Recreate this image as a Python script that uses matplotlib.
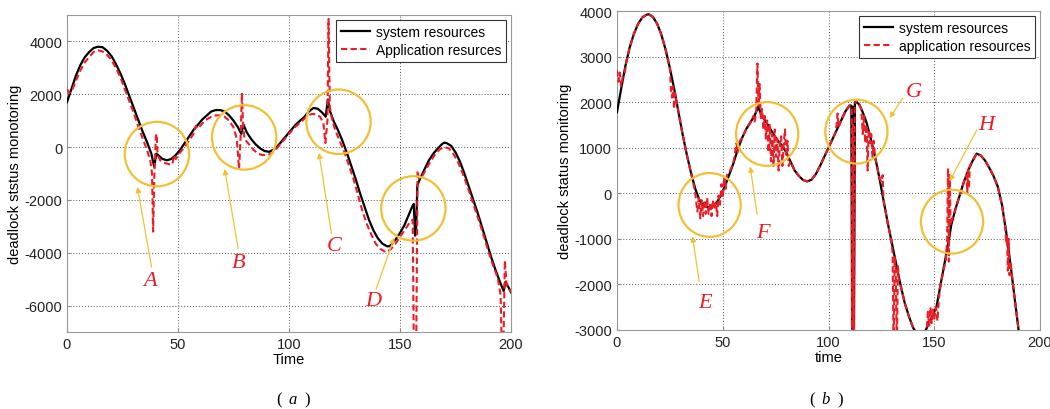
import matplotlib
matplotlib.use('Agg')
import matplotlib.pyplot as plt
from matplotlib.patches import Ellipse

# ---- panel (a) data ----
t_sys_a = [0, 2, 4, 6, 8, 10, 12, 14, 16, 18, 20, 22, 24, 26, 28, 30, 32, 34, 36, 38, 39.3, 40.2, 41, 43, 45, 47, 49,
           51, 53, 55, 57, 59, 61, 63, 65, 67, 69, 71, 73, 75, 77, 78.5, 79.5, 81, 83, 85, 87, 89, 91, 93, 95, 97,
           99, 101, 103, 105, 107, 109, 111, 113, 115, 116.5, 117.5, 118.5, 120, 122, 124, 126, 128, 130, 132, 134,
           136, 138, 140, 142, 144, 145, 146, 148, 150, 152, 154, 155.5, 156.2, 156.8, 157.3, 157.8, 159, 161, 163,
           165, 167, 169, 170, 171, 173, 175, 177, 179, 181, 183, 185, 187, 189, 191, 193, 195, 196.7, 197.5,
           198.5, 200]
sys_a = [1700, 2200, 2700, 3100, 3400, 3600, 3750, 3800, 3780, 3650, 3450, 3150, 2800, 2400, 1950, 1500, 1050, 600,
         200, -250, -750, -250, -300, -450, -500, -450, -300, -100, 150, 400, 650, 850, 1050, 1200, 1350, 1400, 1400,
         1350, 1200, 1000, 750, 500, 850, 550, 300, 100, -50, -150, -180, -100, 50, 250, 450, 650, 850, 1000, 1150,
         1350, 1480, 1450, 1300, 1150, 1800, 1350, 1000, 650, 250, -200, -700, -1200, -1750, -2250, -2750, -3150,
         -3450, -3650, -3750, -3760, -3700, -3500, -3250, -2950, -2550, -2250, -2150, -3350, -3000, -1450, -1200,
         -850, -500, -250, -50, 120, 170, 150, 50, -200, -550, -1000, -1500, -2000, -2500, -3050, -3600, -4150,
         -4650, -5100, -5450, -5100, -5250, -5500]

t_app_a = [0, 1, 2, 4, 6, 8, 10, 12, 14, 16, 18, 20, 22, 24, 26, 28, 30, 32, 34, 36, 37.5, 38.3, 38.8, 39.3, 40,
           40.4, 40.8, 42, 44, 46, 47.5, 48.2, 49, 51, 53, 55, 57, 58, 59, 61, 63, 65, 67, 69, 71, 73, 75, 76.5,
           77.5, 78.2, 78.8, 79.3, 80, 82, 84, 86, 88, 90, 92, 94, 96, 98, 100, 102, 104, 106, 108, 110, 112, 114,
           115.5, 116.4, 117.3, 117.8, 118.4, 119.5, 121, 123, 125, 127, 129, 131, 133, 135, 137, 139, 141, 143,
           144, 146, 148, 150, 152, 154, 155.7, 156.2, 157.3, 157.9, 158.5, 160, 162, 164, 166, 168, 170, 172, 174,
           176, 178, 180, 182, 184, 186, 188, 190, 192, 194, 195.3, 195.8, 196.6, 197.2, 198, 200]
app_a = [2200, 2050, 2100, 2500, 2900, 3200, 3420, 3600, 3660, 3620, 3500, 3300, 3000, 2650, 2200, 1750, 1300, 800,
         350, -100, -500, -1000, -3200, -1200, 400, 500, -300, -500, -600, -650, -650, -300, -450, -200, 0, 250,
         500, 800, 700, 900, 1050, 1150, 1200, 1200, 1150, 1000, 750, 300, -850, 400, 2050, 800, 300, 100, -100,
         -250, -300, -300, -250, -100, 100, 300, 500, 700, 850, 1000, 1150, 1250, 1250, 1150, 900, 150, 1000, 4850,
         1500, 1000, 600, 200, -200, -700, -1200, -1800, -2400, -2900, -3300, -3650, -3850, -3950, -3980, -3850,
         -3650, -3400, -3150, -2900, -2750, -7500, -7500, -900, -1200, -1100, -800, -500, -250, -80, 0, -50, -250,
         -550, -950, -1400, -1900, -2400, -2900, -3450, -4000, -4500, -4950, -5600, -7500, -7500, -4300, -5200,
         -5500]

# ---- panel (b) data ----
t_sys_b = [0, 2, 4, 6, 8, 10, 12, 14, 15, 17, 19, 21, 23, 25, 27, 29, 31, 33, 35, 37, 39, 41, 43, 45, 47, 49, 51,
           53, 55, 57, 59, 61, 63, 65, 66.8, 68, 70, 72, 74, 76, 78, 80, 82, 84, 86, 88, 90, 92, 94, 96, 98, 100,
           102, 104, 106, 108, 110, 110.8, 111.2, 111.6, 112, 112.5, 113, 114.5, 116, 118, 120, 122, 124, 126, 128,
           130, 132, 134, 136, 138, 140, 142, 145, 147, 149, 151, 153, 155, 157, 158, 160, 162, 164, 166, 168, 170,
           172, 174, 176, 178, 180, 182, 184, 186, 188, 190]
sys_b = [1780, 2300, 2800, 3200, 3500, 3720, 3860, 3920, 3930, 3870, 3720, 3480, 3150, 2750, 2300, 1800, 1300, 850,
         450, 100, -150, -280, -300, -300, -220, -50, 150, 400, 650, 950, 1200, 1400, 1550, 1700, 1900, 1750, 1600,
         1450, 1300, 1150, 1050, 900, 700, 500, 380, 290, 260, 300, 420, 600, 800, 1000, 1200, 1400, 1600, 1800,
         1930, 1920, -3500, 1900, -3500, 2000, 2010, 1950, 1800, 1550, 1200, 800, 350, -150, -650, -1100, -1550,
         -2000, -2400, -2700, -2950, -3100, -3100, -2900, -2700, -2500, -2000, -1500, -1000, -700, -350, -50, 250,
         500, 700, 870, 830, 720, 560, 380, 150, -250, -850, -1550, -2300, -3050]

t_app_b = [0, 0.7, 1.3, 2, 2.7, 3.5, 4.5, 6, 8, 10, 12, 14, 15, 17, 19, 21, 23, 25, 25.5, 26, 26.5, 27, 27.5, 28,
           29, 31, 33, 35, 36, 37, 38, 38.7, 39.4, 40, 40.7, 41.3, 42, 42.6, 43.3, 44, 44.7, 45.3, 46, 46.7, 47.4,
           48, 48.7, 49.4, 50, 50.7, 51.4, 52, 53, 55, 56.5, 57, 58, 59, 61, 63, 64.5, 65, 65.8, 66.4, 66.9, 67.4,
           68, 68.6, 69.2, 69.8, 70.4, 71, 71.6, 72.2, 72.8, 73.4, 74, 74.6, 75.2, 75.8, 76.4, 77, 77.6, 78.2, 78.8,
           79.4, 80, 80.6, 81.2, 82, 84, 86, 88, 90, 92, 94, 96, 98, 100, 102, 103.5, 104.3, 104.8, 106, 108, 110,
           111, 111.2, 111.6, 112, 112.4, 113, 114.5, 115.5, 116.2, 116.8, 117.4, 118, 118.5, 119, 119.6, 120.2,
           120.8, 121.4, 122, 123, 124, 125, 125.6, 126, 128, 129.5, 130.3, 130.8, 131.3, 131.8, 132.3, 132.8,
           133.3, 134, 136, 138, 140, 142, 145, 146.5, 147, 147.6, 148.2, 148.8, 149.4, 150, 150.8, 151.5, 152.2,
           153, 155.5, 156.1, 156.5, 156.9, 157.3, 157.7, 158.5, 160, 162, 164, 165.3, 165.6, 166, 166.4, 166.8,
           168, 170, 172, 174, 176, 178, 180, 182, 183.5, 184, 184.4, 184.8, 185.2, 185.6, 186, 187, 188, 190]
app_b = [2700, 2450, 2650, 2350, 2550, 2600, 2900, 3200, 3500, 3720, 3860, 3920, 3930, 3870, 3720, 3480, 3150,
         2750, 2300, 2100, 2350, 1850, 2200, 2050, 1800, 1300, 850, 450, 250, 0, -400, -100, -550, -150, -500,
         -150, -450, -100, -450, -200, -500, -150, -350, -200, -500, -50, -250, 200, -100, 350, 100, 400, 450, 650,
         1100, 900, 1150, 1200, 1400, 1550, 1700, 1550, 1750, 2850, 1900, 2400, 1650, 1850, 1400, 1700, 1200, 1600,
         900, 1500, 700, 1300, 600, 1400, 800, 1200, 500, 1100, 1250, 600, 1050, 1400, 800, 1150, 600, 700, 500,
         380, 290, 260, 300, 420, 600, 800, 1000, 1200, 1350, 1750, 1450, 1600, 1800, 1930, 1900, -3500, 1500,
         -3500, 1900, 2050, 1950, 1850, 1300, 1700, 1100, 1500, 500, 1400, 1100, 1300, 800, 1150, 800, 600, 350,
         250, 400, -150, -650, -1000, -1300, -3500, -1400, -1700, -3500, -1600, -1900, -2000, -2400, -2700, -2950,
         -3100, -3100, -2950, -2600, -2900, -2500, -2850, -2550, -2750, -2500, -2800, -2300, -2000, -1450, -1000,
         550, -1500, 400, -700, -550, -350, -50, 250, 400, 0, 550, 100, 600, 700, 870, 830, 720, 560, 380, 150,
         -250, -700, -1100, -950, -1700, -1000, -1800, -1500, -1900, -2300, -3050]

# annotations: letter, circle centre, circle radius (t, value), arrow start, arrow tip, label position
marks_a = [('A', (40.5, -265), (14.5, 1220), (38.3, -4650), (31.5, -1400), (37.5, -5050)),
           ('B', (79.8, 366), (14.5, 1220), (77.3, -3950), (70.8, -720), (77.3, -4370)),
           ('C', (122.3, 960), (14.5, 1220), (119.3, -3380), (113.3, -110), (120.3, -3740)),
           ('D', (156, -2323), (14.5, 1220), (138.8, -5480), (147.8, -3330), (138, -5820))]
marks_b = [('E', (43.8, -256), (14.7, 700), (39.1, -2000), (35.5, -880), (41.5, -2400)),
           ('F', (71, 1302), (14.7, 700), (66.4, -520), (62.8, 650), (69, -860)),
           ('G', (113.2, 1353), (14.7, 700), (135.8, 2140), (128.2, 1600), (140.4, 2230)),
           ('H', (158.4, -622), (14.7, 700), (170.8, 1450), (156.6, 210), (174.8, 1520))]

plt.rcParams['font.family'] = ['Liberation Sans', 'DejaVu Sans']
plt.rcParams['axes.unicode_minus'] = False

fig = plt.figure(figsize=(10.5, 4.1), dpi=100)
ax1 = fig.add_axes([0.0638, 0.1878, 0.4229, 0.7732])
ax2 = fig.add_axes([0.5876, 0.1927, 0.4029, 0.7780])

circ_col = '#F2C035'
red = '#EE1C25'


def draw_panel(ax, t_s, s, t_p, p, labels, marks, ylim, yticks, xlabel, ylabel):
    ax.plot(t_s, s, color='black', lw=1.6, label=labels[0], zorder=3)
    ax.plot(t_p, p, color=red, lw=1.5, ls=(0, (3, 1.6)), label=labels[1], zorder=4)
    ax.set_xlim(0, 200)
    ax.set_ylim(*ylim)
    ax.set_xticks([0, 50, 100, 150, 200])
    ax.set_yticks(yticks)
    ax.grid(True, ls=(0, (1, 2)), color='#555555', lw=0.7)
    ax.tick_params(direction='in', labelsize=10.5, length=3, color='#888888', labelcolor='#222222')
    for sp in ax.spines.values():
        sp.set_color('#999999')
    ax.set_xlabel(xlabel, fontsize=10.5, labelpad=1)
    ax.set_ylabel(ylabel, fontsize=10.5, labelpad=2)
    leg = ax.legend(loc='upper right', fontsize=10, fancybox=False, framealpha=1, edgecolor='#333333',
                    borderaxespad=0.35, handlelength=2.1, handletextpad=0.4, borderpad=0.35, labelspacing=0.3)
    leg.get_frame().set_linewidth(0.8)
    for name, c, r, start, tip, lab in marks:
        ax.add_patch(Ellipse(c, 2 * r[0], 2 * r[1], fill=False, ec=circ_col, lw=1.6, zorder=5))
        ax.annotate('', xy=tip, xytext=start,
                    arrowprops=dict(arrowstyle='-|>', color=circ_col, lw=0.9, mutation_scale=8), zorder=5)
        ax.text(lab[0], lab[1], name, color=red, fontsize=16, family='Liberation Serif', style='italic',
                ha='center', va='center', zorder=6)


draw_panel(ax1, t_sys_a, sys_a, t_app_a, app_a, ['system resources', 'Application resurces'], marks_a,
           (-7000, 5000), [-6000, -4000, -2000, 0, 2000, 4000], 'Time', 'deadlock ststus monotoring')
draw_panel(ax2, t_sys_b, sys_b, t_app_b, app_b, ['system resources', 'application resources'], marks_b,
           (-3000, 4000), [-3000, -2000, -1000, 0, 1000, 2000, 3000, 4000], 'time', 'deadlock status monitoring')

for cx, letter in [(293, 'a'), (826, 'b')]:
    fig.text((cx - 14) / 1050, 0.014, '(', family='Liberation Serif', fontsize=12, ha='center', va='baseline')
    fig.text(cx / 1050, 0.014, letter, family='Liberation Serif', style='italic', fontsize=12, ha='center',
             va='baseline')
    fig.text((cx + 14) / 1050, 0.014, ')', family='Liberation Serif', fontsize=12, ha='center', va='baseline')

fig.savefig('out.png', dpi=100)
